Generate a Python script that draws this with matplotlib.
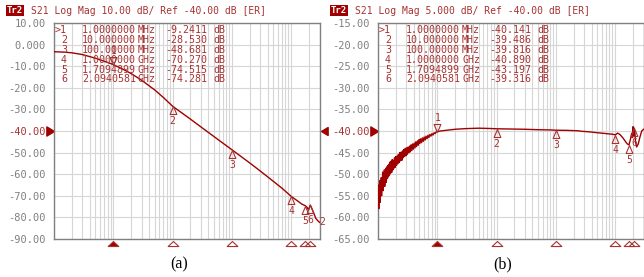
#!/usr/bin/env python3
"""
Two VNA S21 traces (Log Mag) side by side, with marker tables
"""
import matplotlib
matplotlib.use('Agg')
import matplotlib.pyplot as plt
from matplotlib.path import Path
from matplotlib.transforms import blended_transform_factory

# ---- data ----
# panel (a): low-pass roll-off, frequency in Hz, S21 in dB
freq_a = [1e5, 1.5e5, 2e5, 3e5, 5e5, 7e5, 1e6, 1.5e6, 2e6, 3e6, 5e6, 7e6,
          1e7, 2e7, 3e7, 5e7, 1e8, 2e8, 3e8, 5e8, 7e8, 1e9, 1.3e9, 1.5e9,
          1.7094899e9, 1.85e9, 1.95e9, 2.0940581e9, 2.2e9, 2.4e9, 2.6e9,
          2.8e9, 3e9]
s21_a = [-3.3, -3.5, -3.8, -4.6, -6.3, -7.7, -9.2411, -11.6, -13.4, -16.5,
         -21.0, -24.5, -28.530, -34.5, -38.1, -42.6, -48.681, -54.8, -58.5,
         -63.3, -66.5, -70.270, -72.5, -73.8, -74.515, -75.3, -76.5,
         -74.281, -75.5, -78.0, -80.5, -81.5, -82.3]

# panel (b): noisy start, then flat around -40 dB (frequency in kHz)
freq_b_khz = [100, 101.5, 103, 104.5, 106, 107.5, 109, 110.5, 112, 113.5,
              115, 116.5, 118, 120, 122, 124, 126, 128, 130, 132, 134, 136,
              138, 141, 144, 147, 150, 153, 156, 159, 162, 166, 170, 174,
              178, 182, 186, 190, 195, 200, 205, 210, 215, 221, 227, 233,
              239, 245, 252, 259, 266, 273, 281, 289, 297, 305, 314, 323,
              332, 342, 352, 362, 373, 384, 396, 408, 421, 434, 448, 462,
              477, 492, 508, 525, 542, 560, 580, 600, 622, 645, 670, 695,
              722, 750, 780, 812, 846, 882, 920, 960, 1000, 1200, 1500,
              2000, 3000, 5000, 7000, 10000, 20000, 30000, 50000, 80000,
              100000, 150000, 200000, 240000, 260000, 300000, 400000,
              500000, 700000, 900000, 1000000, 1050000, 1100000, 1200000,
              1350000, 1500000, 1600000, 1709489.9, 1800000, 1900000,
              1950000, 2000000, 2050000, 2094058.1, 2150000, 2200000,
              2300000, 2450000, 2600000, 2800000, 3000000]
s21_b = [-56.0, -52.5, -58.0, -53.5, -55.8, -51.5, -56.5, -52.0, -54.6,
         -50.8, -55.0, -51.2, -53.0, -49.5, -53.8, -50.2, -52.4, -49.0,
         -52.8, -49.4, -51.6, -48.6, -51.9, -48.3, -51.0, -48.0, -50.6,
         -47.7, -50.2, -47.2, -49.8, -47.0, -49.6, -46.6, -49.0, -46.8,
         -48.6, -46.2, -48.4, -45.9, -48.0, -45.8, -47.6, -45.4, -47.3,
         -45.0, -46.9, -44.9, -46.8, -44.6, -46.2, -44.3, -45.9, -44.0,
         -45.7, -43.9, -45.4, -43.7, -45.0, -43.5, -44.8, -43.2, -44.5,
         -43.0, -44.2, -42.8, -43.9, -42.5, -43.6, -42.3, -43.3, -42.0,
         -42.9, -41.8, -42.7, -41.6, -42.4, -41.4, -42.1, -41.2, -41.8,
         -41.0, -41.5, -40.8, -41.2, -40.6, -40.95, -40.4, -40.6, -40.2,
         -40.141, -39.95, -39.8, -39.6, -39.45, -39.35, -39.4, -39.486,
         -39.55, -39.6, -39.7, -39.75, -39.816, -39.85, -39.9, -39.95,
         -40.05, -40.1, -40.25, -40.4, -40.6, -40.75, -40.890, -40.7,
         -40.5, -40.8, -41.6, -42.5, -43.0, -43.197, -42.0, -40.5, -41.5,
         -39.0, -41.0, -39.316, -40.5, -42.5, -43.7, -43.0, -41.5, -40.0,
         -39.6]
freq_b = [f * 1e3 for f in freq_b_khz]

marker_freqs = [1e6, 1e7, 1e8, 1e9, 1.7094899e9, 2.0940581e9]
marker_freq_text = ['1.0000000', '10.000000', '100.00000',
                    '1.0000000', '1.7094899', '2.0940581']
marker_units = ['MHz', 'MHz', 'MHz', 'GHz', 'GHz', 'GHz']
marker_a = [-9.2411, -28.530, -48.681, -70.270, -74.515, -74.281]
marker_b = [-40.141, -39.486, -39.816, -40.890, -43.197, -39.316]
marker_text_a = ['-9.2411', '-28.530', '-48.681', '-70.270', '-74.515', '-74.281']
marker_text_b = ['-40.141', '-39.486', '-39.816', '-40.890', '-43.197', '-39.316']

yticks_a = [10, 0, -10, -20, -30, -40, -50, -60, -70, -80, -90]
ylabels_a = ['10.00', '0.000', '-10.00', '-20.00', '-30.00', '-40.00',
             '-50.00', '-60.00', '-70.00', '-80.00', '-90.00']
yticks_b = [-15, -20, -25, -30, -35, -40, -45, -50, -55, -60, -65]
ylabels_b = ['-15.00', '-20.00', '-25.00', '-30.00', '-35.00', '-40.00',
             '-45.00', '-50.00', '-55.00', '-60.00', '-65.00']

title_a = 'S21 Log Mag 10.00 dB/ Ref -40.00 dB [ER]'
title_b = 'S21 Log Mag 5.000 dB/ Ref -40.00 dB [ER]'
ref_level = -40.0

TRACE = '#a00000'
TXT = '#a83232'
GRAY = '#808080'
MONO = 'DejaVu Sans Mono'
W, H = 644, 277
PT = 0.72  # points per pixel at dpi 100

# marker shapes with the tip at the origin
tri_up = Path([(0, 0), (-0.42, -1), (0.42, -1), (0, 0)],
              [Path.MOVETO, Path.LINETO, Path.LINETO, Path.CLOSEPOLY])
tri_down = Path([(0, 0), (-0.42, 1), (0.42, 1), (0, 0)],
                [Path.MOVETO, Path.LINETO, Path.LINETO, Path.CLOSEPOLY])
tri_base = Path([(0, 0), (-1, -0.94), (1, -0.94), (0, 0)],
                [Path.MOVETO, Path.LINETO, Path.LINETO, Path.CLOSEPOLY])
ref_right = Path([(0, 0), (-1, 0.6), (-1, -0.6), (0, 0)],
                 [Path.MOVETO, Path.LINETO, Path.LINETO, Path.CLOSEPOLY])
ref_left = Path([(0.15, 0), (1.15, 0.6), (1.15, -0.6), (0.15, 0)],
                [Path.MOVETO, Path.LINETO, Path.LINETO, Path.CLOSEPOLY])


def draw_panel(fig, x0, freqs, vals, yticks, ylabels, title, mvals, mtexts,
               caption, trace_label):
  left, right, top, bottom = x0 + 54, x0 + 319.5, 23, 239
  ax = fig.add_axes([left / W, 1 - bottom / H, (right - left) / W,
                     (bottom - top) / H])
  ax.set_xscale('log')
  ax.set_xlim(1e5, 3e9)
  ax.set_ylim(yticks[-1], yticks[0])
  ax.set_yticks(yticks)
  ax.set_yticklabels(ylabels, family=MONO, fontsize=7.5)
  for lab, v in zip(ax.get_yticklabels(), yticks):
    lab.set_color(TXT if v == ref_level else GRAY)
  ax.tick_params(axis='y', length=0, pad=6)
  ax.tick_params(axis='x', which='both', length=0, labelbottom=False)
  ax.grid(True, which='both', axis='x', color='#d6d6d6', lw=0.8)
  ax.grid(True, which='major', axis='y', color='#d6d6d6', lw=0.8)
  for s in ax.spines.values():
    s.set_color(GRAY)
    s.set_linewidth(1.0)

  ax.plot(freqs, vals, color=TRACE, lw=1.0, zorder=3)

  # markers on the trace
  for i, (f, v) in enumerate(zip(marker_freqs, mvals)):
    if i == 0:
      ax.plot(f, v, marker=tri_down, ms=11.5, mfc='none', mec=TXT, mew=0.8,
              zorder=4)
      ax.annotate('1', (f, v), xytext=(0, 13.5 * PT), textcoords='offset points',
                  ha='center', va='center', color=TXT, family=MONO, fontsize=7)
    else:
      ax.plot(f, v, marker=tri_up, ms=11.5, mfc='none', mec=TXT, mew=0.8,
              zorder=4)
      ax.annotate(str(i + 1), (f, v), xytext=(0, -15 * PT),
                  textcoords='offset points', ha='center', va='center',
                  color=TXT, family=MONO, fontsize=7)

  # marker stimulus triangles below the frame
  bt = blended_transform_factory(ax.transData, ax.transAxes)
  for i, f in enumerate(marker_freqs):
    ax.plot(f, -0.008, marker=tri_base, ms=7.7, transform=bt, clip_on=False,
            mfc=TRACE if i == 0 else 'none', mec=TXT, mew=0.8)

  # reference level arrows
  rt = blended_transform_factory(ax.transAxes, ax.transData)
  ax.plot(0, ref_level, marker=ref_right, ms=11, transform=rt, clip_on=False,
          color=TRACE)
  ax.plot(1, ref_level, marker=ref_left, ms=11, transform=rt, clip_on=False,
          color=TRACE)

  # marker table
  for i in range(6):
    dy = -(7 + 9.9 * i) * PT
    cols = [('>1' if i == 0 else str(i + 1), 13, 'right'),
            (marker_freq_text[i], 82, 'right'),
            (marker_units[i], 84, 'left'),
            (mtexts[i], 153, 'right'),
            ('dB', 159, 'left')]
    for txt, dx, ha in cols:
      ax.annotate(txt, (0, 1), xycoords='axes fraction',
                  xytext=(dx * PT, dy), textcoords='offset points',
                  ha=ha, va='center', color=TXT, family=MONO, fontsize=7.2,
                  zorder=5)

  if trace_label:
    ax.annotate('2', (1, vals[-1]), xycoords=rt, xytext=(3 * PT, 0),
                textcoords='offset points', ha='center', va='center',
                color=TXT, family=MONO, fontsize=7, annotation_clip=False)

  # title line
  fig.text((x0 + 7) / W, 1 - 10.5 / H, 'Tr2', color='white', family=MONO,
           fontsize=6.5, fontweight='bold', va='center', ha='left',
           bbox=dict(boxstyle='square,pad=0.12', fc='#a00000', ec='none'))
  fig.text((x0 + 31) / W, 1 - 10.5 / H, title, color=TXT, family=MONO,
           fontsize=7, va='center', ha='left')
  fig.text((x0 + 179) / W, 1 - 264 / H, caption, family='Liberation Serif',
           fontsize=11.5, ha='center', va='center', color='black')
  return ax


def main():
  fig = plt.figure(figsize=(W / 100, H / 100), dpi=100)
  draw_panel(fig, 0, freq_a, s21_a, yticks_a, ylabels_a, title_a, marker_a,
             marker_text_a, '(a)', True)
  draw_panel(fig, 324, freq_b, s21_b, yticks_b, ylabels_b, title_b, marker_b,
             marker_text_b, '(b)', False)
  fig.savefig('out.png', dpi=100)


if __name__ == '__main__':
  main()
